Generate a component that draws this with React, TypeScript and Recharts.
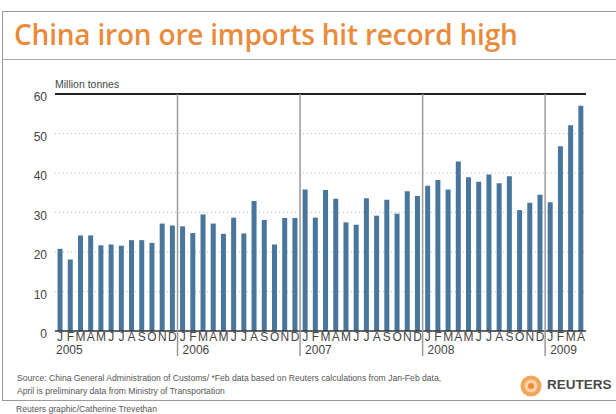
import { BarChart, Bar, XAxis, YAxis, CartesianGrid, ReferenceLine } from "recharts"

const MONTHS = ["J", "F", "M", "A", "M", "J", "J", "A", "S", "O", "N", "D"]
const YEARS = ["2005", "2006", "2007", "2008", "2009"]

// million tonnes
const IMPORTS_2005 = [20.8, 18.1, 24.2, 24.2, 21.7, 21.9, 21.6, 23.0, 23.0, 22.3, 27.2, 26.7]
const IMPORTS_2006 = [26.5, 24.8, 29.5, 27.2, 24.6, 28.7, 24.7, 32.9, 28.1, 21.9, 28.6, 28.6]
const IMPORTS_2007 = [35.8, 28.7, 35.7, 33.5, 27.5, 26.9, 33.6, 29.2, 33.2, 29.7, 35.4, 34.2]
const IMPORTS_2008 = [36.8, 38.2, 35.8, 42.9, 38.9, 37.8, 39.6, 37.4, 39.2, 30.6, 32.5, 34.5]
const IMPORTS_2009 = [32.6, 46.8, 52.1, 57.0]

const Y_TICKS = [0, 10, 20, 30, 40, 50, 60]

const data = [IMPORTS_2005, IMPORTS_2006, IMPORTS_2007, IMPORTS_2008, IMPORTS_2009].flatMap((vals, yi) =>
  vals.map((value, mi) => ({
    key: `${YEARS[yi]}-${mi + 1}`,
    month: MONTHS[mi],
    year: YEARS[yi],
    first: mi === 0,
    value,
  }))
)

const PLOT_TOP = 94
const TEXT = "#444"
const FONT = "'Liberation Sans', Arial, sans-serif"

function MonthTick(props: any) {
  const { x, y, payload, index } = props
  const d = data[payload?.index ?? index]
  if (!d) return null
  const half = payload?.offset ?? 5.1
  const sepX = x - half
  const hasSep = d.first && (payload?.index ?? index) > 0
  return (
    <g>
      <text x={x} y={y + 10} textAnchor="middle" fontSize={12} fill={TEXT} fontFamily={FONT}>
        {d.month}
      </text>
      {d.first && (
        <text x={hasSep ? sepX + 5 : sepX + 1} y={y + 23} fontSize={12} fill={TEXT} fontFamily={FONT}>
          {d.year}
        </text>
      )}
      {hasSep && <line x1={sepX} x2={sepX} y1={PLOT_TOP} y2={y + 25} stroke="#999" strokeWidth={1.5} />}
    </g>
  )
}

export default function App() {
  return (
    <div style={{ position: "absolute", left: 0, top: 0, width: 616, height: 414, overflow: "hidden", background: "#fff" }}>
      <BarChart width={616} height={414} data={data} margin={{ top: PLOT_TOP, right: 30, bottom: 53, left: 0 }} barCategoryGap="25%">
        <CartesianGrid vertical={false} stroke="#bbb" strokeDasharray="1 3" />
        <YAxis
          width={55}
          domain={[0, 60]}
          ticks={Y_TICKS}
          axisLine={false}
          tickLine={false}
          tick={{ fontSize: 12, fill: TEXT, fontFamily: FONT, dy: 3 }}
        />
        <XAxis
          dataKey="key"
          interval={0}
          height={30}
          tickSize={0}
          tickMargin={0}
          tickLine={false}
          axisLine={{ stroke: "#333", strokeWidth: 1.5 }}
          tick={<MonthTick />}
        />
        <ReferenceLine y={60} stroke="#222" strokeWidth={2} />
        <Bar dataKey="value" fill="#48769c" isAnimationActive={false} />
      </BarChart>

      {/* frame */}
      <div style={{ position: "absolute", left: 2, top: 11, width: 640, height: 388, border: "1px solid #999", pointerEvents: "none" }} />
      <div style={{ position: "absolute", left: 2, top: 59, width: 640, height: 0, borderTop: "1px solid #aaa" }} />
      <div
        style={{
          position: "absolute",
          left: 14,
          top: 16,
          fontFamily: "'Open Sans', sans-serif",
          fontWeight: 600,
          fontSize: 28,
          lineHeight: "36px",
          color: "#e98b3c",
          letterSpacing: -0.2,
          whiteSpace: "nowrap",
        }}
      >
        China iron ore imports hit record high
      </div>
      <div style={{ position: "absolute", left: 55, top: 78, fontFamily: FONT, fontSize: 10.5, color: TEXT, whiteSpace: "nowrap" }}>
        Million tonnes
      </div>
      <div style={{ position: "absolute", left: 17, top: 372, fontFamily: FONT, fontSize: 8.6, lineHeight: "12.5px", color: "#555", whiteSpace: "nowrap" }}>
        Source: China General Administration of Customs/ *Feb data based on Reuters calculations from Jan-Feb data,
        <br />
        April is preliminary data from Ministry of Transportation
      </div>
      <div style={{ position: "absolute", left: 16, top: 404, fontFamily: FONT, fontSize: 8.6, color: "#555", whiteSpace: "nowrap" }}>
        Reuters graphic/Catherine Trevethan
      </div>
      <svg style={{ position: "absolute", left: 519, top: 374 }} width={24} height={24}>
        <circle cx={12} cy={12} r={10.5} fill="#f3a55a" />
        <circle cx={12} cy={12} r={6.5} fill="#fbd3a8" />
        <circle cx={12} cy={12} r={3} fill="#ee8a34" />
      </svg>
      <div
        style={{
          position: "absolute",
          left: 547,
          top: 377,
          fontFamily: FONT,
          fontWeight: 700,
          fontSize: 13.5,
          color: "#4a4a4a",
          whiteSpace: "nowrap",
        }}
      >
        REUTERS
      </div>
    </div>
  )
}
